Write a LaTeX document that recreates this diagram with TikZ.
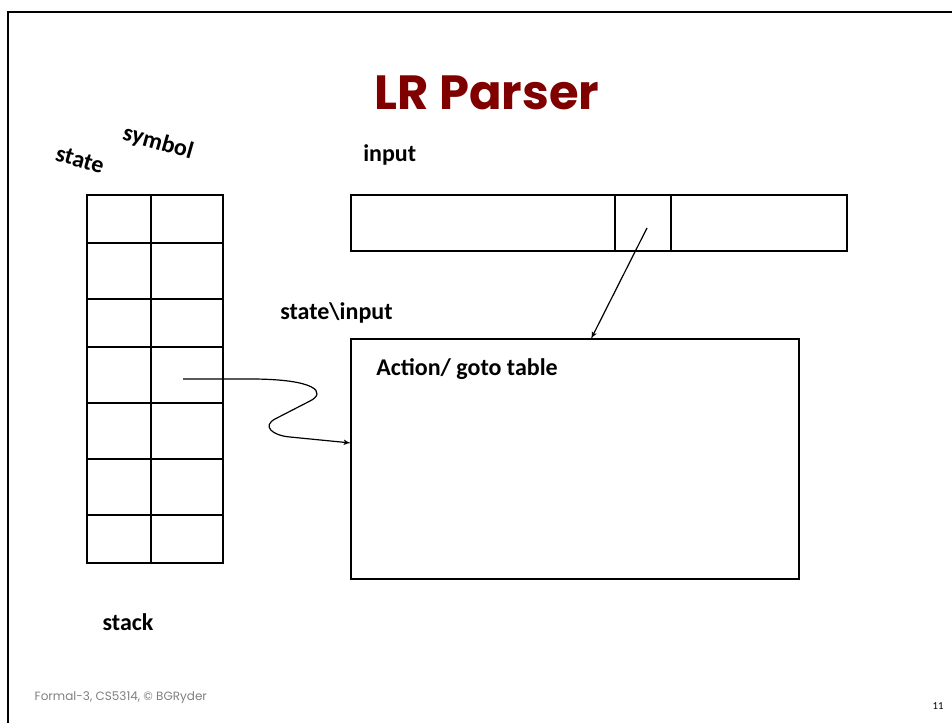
\documentclass[tikz,border=0pt]{standalone}
\usepackage{fontspec}
\setmainfont{Carlito}
\newfontfamily\headfont{Poppins}
\newfontfamily\footfont{Poppins}
\usepackage{tikz}
\usetikzlibrary{arrows,fit}

\definecolor{titlered}{RGB}{128,0,0}
\definecolor{footgray}{RGB}{128,128,128}

\begin{document}
\begin{tikzpicture}[x=0.75pt, y=-0.75pt,
    cell/.style={draw, rectangle, inner sep=0pt, outer sep=0pt, line width=0.8pt}]
            \tikzset{lbl/.style = {font=\fontsize{18}{20}\selectfont\bfseries, inner sep=0pt}}
            \tikzset{edge/.style = {->,> = latex', line width=0.9pt}}

            \useasboundingbox (0,0) rectangle (952,723);
            \draw[line width=2pt] (8,723) -- (8,12) -- (952,12);

            \node[font=\headfont\fontsize{36}{40}\selectfont\bfseries, text=titlered] (title) at (487,93) {LR Parser};

            % stack of state/symbol pairs
            \foreach \ya/\yb [count=\i] in {195/243, 243/299, 299/347, 347/403, 403/459, 459/515, 515/563} {
                \node[cell, fit={(87,\ya) (151,\yb)}] (st\i) {};
                \node[cell, fit={(151,\ya) (223,\yb)}] (sy\i) {};
            }
            \node[lbl, rotate=-16] (statelbl) at (80,160) {state};
            \node[lbl, rotate=-16] (symlbl) at (158,143) {symbol};
            \node[lbl] (stacklbl) at (128,622) {stack};

            % input tape
            \node[cell, fit={(351,195) (615,251)}] (in1) {};
            \node[cell, fit={(615,195) (671,251)}] (in2) {};
            \node[cell, fit={(671,195) (847,251)}] (in3) {};
            \node[lbl, anchor=west] (inputlbl) at (363,155) {input};

            % parse table
            \node[cell, fit={(351,339) (799,579)}] (table) {};
            \node[lbl, anchor=west] (tabletitle) at (376,369) {Action/ goto table};
            \node[lbl, anchor=west] (corner) at (280,313) {state\textbackslash input};

            \coordinate (tabtop) at (591,339);
            \coordinate (tabside) at (351,443);

            \draw [edge] ([shift={(4,5)}]in2.center) to (tabtop);
            \draw [edge] ([shift={(-4,4)}]sy4.center) -- (250,379)
                .. controls (318,379) and (326,393) .. (310,401) -- (275,419)
                .. controls (262,426) and (272,435.5) .. (290,437) -- (tabside);

            \node[font=\footfont\fontsize{9}{10}\selectfont, text=footgray, anchor=west] (foot) at (30,698) {Formal-3, CS5314, \textcopyright\ BGRyder};
            \node[font=\fontsize{8}{9}\selectfont] (pagenum) at (938,706) {11};
            \end{tikzpicture}
\end{document}
